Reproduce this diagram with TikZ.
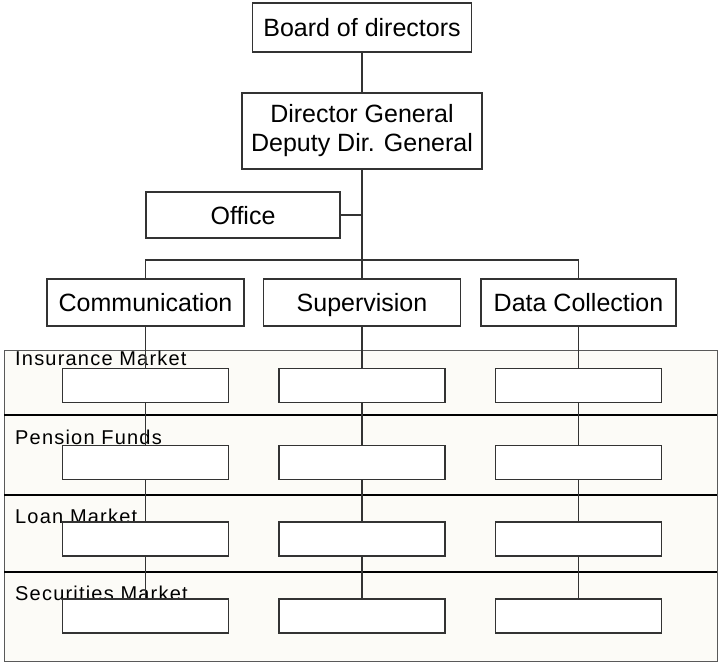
\documentclass[tikz,border=0pt]{standalone}
\usepackage{fontspec}
\setmainfont{Liberation Sans}
\newfontfamily\lanefont[LetterSpace=6]{Liberation Sans}
\definecolor{ink}{HTML}{333333}
\definecolor{lanefill}{HTML}{FCFBF7}
\tikzset{
  orgbox/.style={draw=ink, line width=1.3pt, fill=white, inner sep=0pt,
    align=center, font=\fontsize{25}{29}\selectfont},
  oneline/.style={orgbox, text height=18pt, text depth=0pt},
  unitbox/.style={draw=ink, line width=1.3pt, fill=white, inner sep=0pt,
    minimum width=166pt, minimum height=34pt},
  link/.style={draw=ink, line width=1.3pt},
  lanelabel/.style={anchor=base west, inner sep=0pt,
    font=\lanefont\fontsize{20}{22}\selectfont},
}
\begin{document}
\begin{tikzpicture}[x=1pt, y=-1pt]
\useasboundingbox (0,0) rectangle (719,662);

% swimlanes
\fill[lanefill] (4,350) rectangle (717,661);
\draw[gray!70!black, line width=0.8pt] (4,350) rectangle (717,661);
\foreach \yy in {415,495,572}
  \draw[black, line width=2.2pt] (4,\yy) -- (717,\yy);
\node[lanelabel] (lInsurance) at (15,365) {Insurance Market};
\node[lanelabel] (lPension) at (15,444) {Pension Funds};
\node[lanelabel] (lLoan) at (15,523) {Loan Market};
\node[lanelabel] (lSecurities) at (15,600) {Securities Market};

% management
\node[oneline, minimum width=219pt, minimum height=49pt] (board) at (362,27.5) {Board of directors};
\node[orgbox, minimum width=240pt, minimum height=76pt] (dg) at (362,131) {Director General\\Deputy Dir. General};
\node[oneline, minimum width=194pt, minimum height=46pt] (office) at (243,215) {Office};

% departments
\node[oneline, minimum width=197pt, minimum height=47pt] (comm) at (145.5,302.5) {Communication};
\node[oneline, minimum width=197pt, minimum height=47pt] (sup) at (362,302.5) {Supervision};
\node[oneline, minimum width=195pt, minimum height=47pt] (data) at (578.5,302.5) {Data Collection};

\coordinate (bus) at (0,260);
\path[link] (board) -- (dg);
\path[link] (dg.south) -- (sup.north);
\path[link] (office.east) -- (office.east -| dg.south);
\path[link] (comm.north) |- (bus -| data.north) -- (data.north);

% unit boxes per market, linked down each column
\foreach \col/\cx in {comm/145.5, sup/362, data/578.5}{
  \foreach \row/\ry in {1/385.5, 2/462.5, 3/539, 4/616}
    \node[unitbox] (\col\row) at (\cx,\ry) {};
  \path[link] (\col.south) -- (\col1.north);
  \path[link] (\col1.south) -- (\col2.north);
  \path[link] (\col2.south) -- (\col3.north);
  \path[link] (\col3.south) -- (\col4.north);
}
\end{tikzpicture}
\end{document}
